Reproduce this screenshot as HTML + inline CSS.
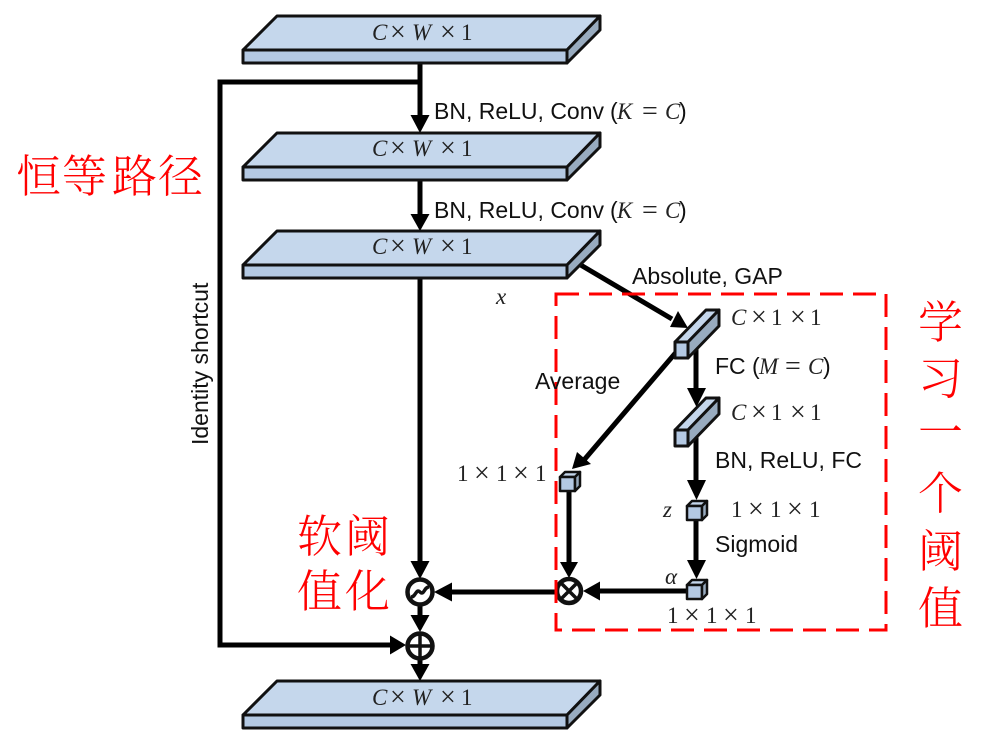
<!DOCTYPE html>
<html><head><meta charset="utf-8"><style>
html,body{margin:0;padding:0;background:#fff}
svg{display:block}
.s{font-family:"Liberation Sans",sans-serif;font-size:23px;fill:#111}
.m{font-family:"Liberation Serif",serif;font-size:23px;fill:#222}
.i{font-style:italic}
.n{font-size:28px}
.r{font-family:"Liberation Serif","Noto Serif CJK SC",serif;font-size:45px;fill:#f00;font-weight:300}
</style></head><body>
<svg width="993" height="751" viewBox="0 0 993 751" xmlns="http://www.w3.org/2000/svg">
<defs>
<g id="slab" stroke="#111" stroke-width="3" stroke-linejoin="round">
<polygon points="277,16 600,16 567,50 243,50" fill="#c5d7ec"/>
<rect x="243" y="50" width="324" height="13" fill="#b4c9e3"/>
<polygon points="567,50 600,16 600,30 567,63" fill="#98abbf"/>
</g>
<g id="bar" stroke="#111" stroke-width="3" stroke-linejoin="round">
<polygon points="675,342 706,310 719,310 688,342" fill="#c5d7ec"/>
<rect x="675" y="342" width="13" height="16" fill="#b4c9e3"/>
<polygon points="688,342 719,310 719,326 688,358" fill="#98abbf"/>
</g>
<g id="cube" stroke="#111" stroke-width="2.5" stroke-linejoin="round">
<polygon points="0,0 5,-5 20,-5 15,0" fill="#c5d7ec"/>
<rect x="0" y="0" width="15" height="14" fill="#b4c9e3"/>
<polygon points="15,0 20,-5 20,9 15,14" fill="#98abbf"/>
</g>
<g id="mx">
<text class="m i" x="372" y="40">C</text><text class="m n" x="390" y="41">×</text><text class="m i" x="412" y="40">W</text><text class="m n" x="440" y="41">×</text><text class="m" x="461" y="40">1</text>
</g>
<g id="c11">
<text class="m i" x="731" y="0">C</text><text class="m n" x="751" y="1">×</text><text class="m" x="771" y="0">1</text><text class="m n" x="790" y="1">×</text><text class="m" x="810" y="0">1</text>
</g>
<g id="o11">
<text class="m" x="0" y="0">1</text><text class="m n" x="17" y="1">×</text><text class="m" x="39" y="0">1</text><text class="m n" x="56" y="1">×</text><text class="m" x="78" y="0">1</text>
</g>
<g id="kc">
<text class="s" x="610" y="119">(</text><text class="m i" x="617" y="119">K</text><text class="m n" x="642" y="120">=</text><text class="m i" x="665" y="119">C</text><text class="s" x="679" y="119">)</text>
</g>
</defs>

<g fill="none" stroke="#000" stroke-width="5">
<path d="M420,63V118"/>
<path d="M420,82H220V645H392" stroke-linejoin="miter"/>
<path d="M420,180V216"/>
<path d="M420,278V562"/>
<path d="M420,605V618"/>
<path d="M420,659V665"/>
<path d="M556,592H450"/>
<path d="M687,591H598"/>
<path d="M569,490V564"/>
<path d="M696,345V390"/>
<path d="M696,434V482"/>
<path d="M696,519V562"/>
<path d="M678,350L584,460"/>
<path d="M579,264L672,319"/>
</g>
<g fill="#000">
<polygon points="410.500,115 429.500,115 420,133"/>
<polygon points="410.500,214 429.500,214 420,231"/>
<polygon points="410.500,561 429.500,561 420,579"/>
<polygon points="410.500,615 429.500,615 420,632"/>
<polygon points="410.500,664 429.500,664 420,681"/>
<polygon points="390,635.500 390,654.500 406,645"/>
<polygon points="452,582.500 452,601.500 434,592"/>
<polygon points="600,581.500 600,600.500 583,591"/>
<polygon points="560,562 578,562 569,578"/>
<polygon points="687,388 706,388 696.500,407"/>
<polygon points="687,480 706,480 696.500,500"/>
<polygon points="687,560 706,560 696.500,579"/>
<polygon points="688,328 670,327 678,311"/>
<polygon points="572,469 577,452 591,464"/>
</g>

<use href="#slab"/>
<use href="#slab" y="117"/>
<use href="#slab" y="215"/>
<use href="#slab" y="665"/>

<use href="#bar"/>
<use href="#bar" y="88"/>
<use href="#cube" x="560" y="477"/>
<use href="#cube" x="687" y="506"/>
<use href="#cube" x="687" y="585"/>

<g fill="#fff" stroke="#111" stroke-width="4.500">
<circle cx="420" cy="592" r="12.500"/>
<circle cx="420" cy="646" r="12.500"/>
<circle cx="569" cy="591" r="12"/>
</g>
<g fill="none" stroke="#111" stroke-width="3.500">
<path d="M411,597C416,597 416,588 420,592C424,596 424,587 429,587"/>
<path d="M408,646H432M420,634V658"/>
<path d="M561,583L577,599M577,583L561,599"/>
</g>

<rect x="556" y="294" width="330" height="336" fill="none" stroke="#f00" stroke-width="3" stroke-dasharray="23 10"/>

<use href="#mx"/>
<use href="#mx" y="116"/>
<use href="#mx" y="214"/>
<use href="#mx" y="665"/>
<use href="#c11" y="325"/>
<use href="#c11" y="420"/>
<use href="#o11" x="731" y="517"/>
<use href="#o11" x="667" y="623"/>
<use href="#o11" x="457" y="481"/>
<text class="m i" x="496" y="304">x</text>
<text class="m i" x="663" y="517">z</text>
<text class="m i" x="665" y="584">α</text>

<text class="s" x="434" y="119">BN, ReLU, Conv</text>
<use href="#kc"/>
<text class="s" x="434" y="218">BN, ReLU, Conv</text>
<use href="#kc" y="99"/>
<text class="s" x="632" y="284">Absolute, GAP</text>
<text class="s" x="535" y="389">Average</text>
<text class="s" x="715" y="374">FC</text><text class="s" x="752" y="374">(</text><text class="m i" x="759" y="374">M</text><text class="m n" x="785" y="375">=</text><text class="m i" x="808" y="374">C</text><text class="s" x="823" y="374">)</text>
<text class="s" x="715" y="468">BN, ReLU, FC</text>
<text class="s" x="715" y="552">Sigmoid</text>
<text class="s" transform="translate(208,445) rotate(-90)">Identity shortcut</text>

<g class="r">
<text x="16" y="192">恒</text><text x="62" y="192">等</text><text x="112" y="192">路</text><text x="158" y="192">径</text>
<text x="297" y="552">软</text><text x="345" y="552">阈</text>
<text x="297" y="607">值</text><text x="345" y="607">化</text>
<text x="918" y="338">学</text>
<text x="918" y="394">习</text>
<text x="918" y="448">一</text>
<text x="918" y="509">个</text>
<text x="918" y="567">阈</text>
<text x="918" y="624">值</text>
</g>
</svg>
</body></html>
